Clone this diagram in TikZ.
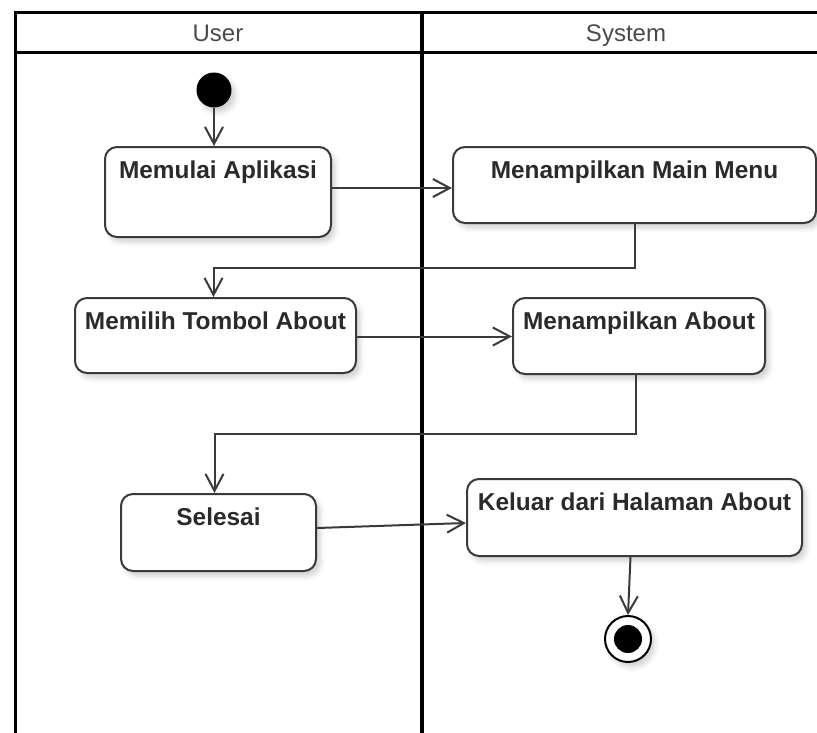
\documentclass[tikz,border=0pt]{standalone}
\usepackage{fontspec}
\setmainfont{Liberation Sans}
\usetikzlibrary{arrows.meta,shadows.blur}

\definecolor{edge}{HTML}{3A3A3A}
\definecolor{ink}{HTML}{2A2A2A}
\definecolor{headink}{HTML}{4A4A4A}

\begin{document}
\begin{tikzpicture}[x=1pt,y=-1pt,
  lane/.style={line width=3pt,draw=black},
  divider/.style={line width=4.5pt,draw=black},
  soft/.style={blur shadow={shadow xshift=4pt,shadow yshift=-5pt,shadow opacity=18,shadow blur radius=5pt}},
  actbox/.style={draw=edge,line width=2pt,fill=white,rounded corners=12pt,
    inner sep=0pt,soft},
  acttext/.style={anchor=base,inner sep=0pt,text=ink,
    font=\fontsize{24.4}{29}\selectfont\bfseries},
  headtext/.style={anchor=base,inner sep=0pt,text=headink,
    font=\fontsize{24}{29}\selectfont},
  flow/.style={draw=edge,line width=2pt,
    -{Straight Barb[length=17pt,width=18pt,line width=2pt]}},
  startdot/.style={circle,fill=black,minimum size=35pt,inner sep=0pt,soft},
  endring/.style={circle,draw=black,line width=2pt,fill=white,minimum size=46pt,inner sep=0pt,soft},
  enddot/.style={circle,fill=black,minimum size=28pt,inner sep=0pt},
]
\useasboundingbox (0,0) rectangle (817,732);

% swimlane frame
\draw[lane] (14,12) -- (840,12);
\draw[lane] (14,52) -- (840,52);
\draw[lane] (15,11) -- (15,745);
\draw[divider] (422,11) -- (422,745);
\node[headtext] (hUser) at (218,41.7) {User};
\node[headtext] (hSys) at (626,41.7) {System};

% start and end states
\node[startdot] (start) at (214,90) {};
\node[endring] (stop) at (628,639) {};
\node[enddot] (stopdot) at (stop) {};

% actions
\node[actbox,minimum width=226pt,minimum height=90pt] (a1) at (218,192) {};
\node[actbox,minimum width=363pt,minimum height=76pt] (a2) at (634.5,185) {};
\node[actbox,minimum width=281pt,minimum height=75pt] (a3) at (215.5,335.5) {};
\node[actbox,minimum width=252pt,minimum height=76pt] (a4) at (639,336) {};
\node[actbox,minimum width=195pt,minimum height=77pt] (a5) at (218.5,532.5) {};
\node[actbox,minimum width=335pt,minimum height=77pt] (a6) at (634.5,517.5) {};

\node[acttext] (t1) at ([yshift=-32.3pt]a1.north) {Memulai Aplikasi};
\node[acttext] (t2) at ([yshift=-32.3pt]a2.north) {Menampilkan Main Menu};
\node[acttext] (t3) at ([yshift=-32.7pt]a3.north) {Memilih Tombol About};
\node[acttext] (t4) at ([yshift=-32.7pt]a4.north) {Menampilkan About};
\node[acttext] (t5) at ([yshift=-32.7pt]a5.north) {Selesai};
\node[acttext] (t6) at ([yshift=-32.7pt]a6.north) {Keluar dari Halaman About};

% control flow
\draw[flow] (start.south) -- (start.south |- a1.north);
\draw[flow] ([yshift=4pt]a1.east) -- ([yshift=4pt]a1.east -| a2.west);
\draw[flow] (a2.south) -- ++(0,44) -| ([xshift=-2pt]a3.north);
\draw[flow] ([yshift=-1pt]a3.east) -- ([yshift=-1pt]a3.east -| a4.west);
\draw[flow] ([xshift=-3pt]a4.south) -- ++(0,59) -| ([xshift=-4pt]a5.north);
\draw[flow] ([yshift=4.5pt]a5.east) -- ([yshift=-5.5pt]a6.west);
\draw[flow] ([xshift=-4pt]a6.south) -- (stop.north);
\end{tikzpicture}
\end{document}
